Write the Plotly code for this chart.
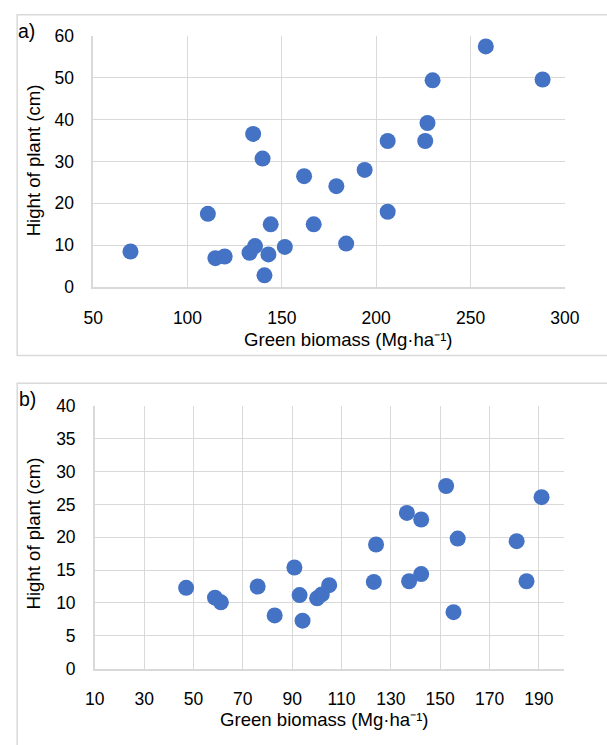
import plotly.graph_objects as go

W, H = 607, 745

# Panel a data
a_biomass = [69.8, 110.8, 114.8, 119.7, 132.9, 135.8, 134.8, 139.8, 140.8, 142.9, 144.1, 151.6,
             161.8, 166.9, 178.9, 184.1, 193.9, 206.1, 206.1, 226.0, 227.2, 229.9, 258.1, 288.2]
a_height = [8.5, 17.5, 6.9, 7.3, 8.2, 9.8, 36.6, 30.7, 2.8, 7.8, 15.0, 9.6,
            26.5, 15.0, 24.1, 10.4, 28.0, 34.9, 18.0, 34.9, 39.2, 49.4, 57.5, 49.6]

# Panel b data
b_biomass = [47.0, 58.7, 61.1, 76.0, 82.9, 90.9, 93.0, 94.2, 100.1, 102.0, 105.0, 123.1,
             124.0, 136.5, 137.4, 142.3, 142.3, 152.4, 155.4, 157.1, 181.0, 185.0, 191.1]
b_height = [12.3, 10.8, 10.1, 12.5, 8.1, 15.4, 11.2, 7.3, 10.7, 11.3, 12.7, 13.2,
            18.9, 23.7, 13.3, 22.7, 14.4, 27.8, 8.6, 19.8, 19.4, 13.3, 26.1]

panel_labels = ["a)", "b)"]
x_title = "Green biomass (Mg·ha⁻¹)"
y_title = "Hight of plant (cm)"

BLUE = "#4472C4"
GRID = "#d9d9d9"
FONT = "Liberation Sans, Arial, sans-serif"
FS_TICK = 17.5
FS_TITLE = 18.6
FS_PANEL = 19.5


def px(x):
    return x / W


def py(y):
    return 1 - y / H


fig = go.Figure()
fig.add_trace(go.Scatter(x=a_biomass, y=a_height, mode="markers",
                         marker=dict(size=16, color=BLUE), xaxis="x", yaxis="y",
                         showlegend=False))
fig.add_trace(go.Scatter(x=b_biomass, y=b_height, mode="markers",
                         marker=dict(size=16, color=BLUE), xaxis="x2", yaxis="y2",
                         showlegend=False))

axis_common = dict(showgrid=True, gridcolor=GRID, gridwidth=1.3, zeroline=False,
                   showline=True, linecolor=GRID, linewidth=1.5, ticks="",
                   tickfont=dict(family=FONT, size=FS_TICK, color="#000000"),
                   fixedrange=True)

fig.update_layout(
    width=W, height=H,
    margin=dict(l=0, r=0, t=0, b=0),
    paper_bgcolor="white", plot_bgcolor="white",
    font=dict(family=FONT, size=FS_TICK, color="#000000"),
    xaxis=dict(domain=[px(86.7), px(578.7)], range=[50, 300], tick0=50, dtick=50,
               anchor="y", ticklabelstandoff=14, **axis_common),
    yaxis=dict(domain=[py(284.7), py(26.7)], range=[0, 60], tick0=0, dtick=10,
               anchor="x", ticklabelstandoff=14, **axis_common),
    xaxis2=dict(domain=[px(88.5), px(577.3)], range=[10, 200], tick0=10, dtick=20,
                anchor="y2", ticklabelstandoff=14, **axis_common),
    yaxis2=dict(domain=[py(676.8), py(406.8)], range=[0, 40], tick0=0, dtick=5,
                anchor="x2", ticklabelstandoff=14, **axis_common),
)

# chart-area borders
fig.add_shape(type="rect", xref="paper", yref="paper",
              x0=px(7.5), x1=1.05, y0=py(355), y1=py(5),
              line=dict(color=GRID, width=1.5), fillcolor="rgba(0,0,0,0)", layer="below")
fig.add_shape(type="rect", xref="paper", yref="paper",
              x0=px(7.5), x1=1.05, y0=-0.05, y1=py(383.5),
              line=dict(color=GRID, width=1.5), fillcolor="rgba(0,0,0,0)", layer="below")

ann = []
# panel labels
ann.append(dict(text=panel_labels[0], x=px(6.5), y=py(21.5), xanchor="left", yanchor="middle",
                size=FS_PANEL))
ann.append(dict(text=panel_labels[1], x=px(7.5), y=py(399.5), xanchor="left", yanchor="middle",
                size=FS_PANEL))
# x titles
ann.append(dict(text=x_title, x=px(353.5), y=py(339), xanchor="center", yanchor="middle",
                size=FS_TITLE))
ann.append(dict(text=x_title, x=px(327.5), y=py(729), xanchor="center", yanchor="middle",
                size=FS_TITLE))
# y titles
ann.append(dict(text=y_title, x=px(24.5), y=py(154), xanchor="center", yanchor="middle",
                textangle=-90, size=FS_TITLE))
ann.append(dict(text=y_title, x=px(25), y=py(538), xanchor="center", yanchor="middle",
                textangle=-90, size=FS_TITLE))

for a in ann:
    size = a.pop("size")
    a.update(xref="paper", yref="paper", showarrow=False,
             font=dict(family=FONT, size=size, color="#000000"))
    fig.add_annotation(**a)

fig.write_html("out.html")
